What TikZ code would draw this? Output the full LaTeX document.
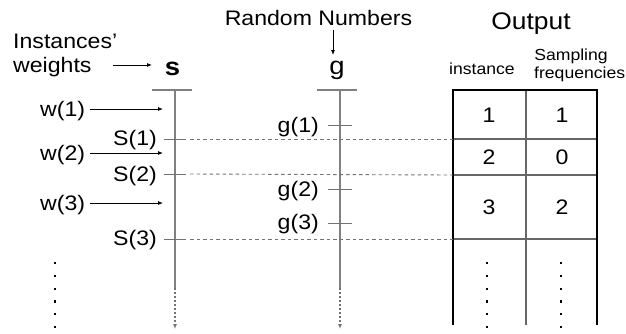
\documentclass[tikz,border=0pt]{standalone}
\usepackage{fontspec}
\setmainfont{Liberation Sans}[FakeStretch=1.1]
\usetikzlibrary{arrows.meta}
\begin{document}
\begin{tikzpicture}[x=1pt,y=-1pt,
  lbl/.style={inner sep=0pt, font=\fontsize{21}{24}\selectfont},
  big/.style={inner sep=0pt, font=\fontsize{25}{28}\selectfont},
  ttl/.style={inner sep=0pt, font=\fontsize{24}{27}\selectfont},
  small/.style={inner sep=0pt, font=\fontsize{16}{18}\selectfont},
  axis/.style={draw=black!50, line width=1.2pt},
  tick/.style={draw=black!55, line width=1pt},
  arr/.style={draw=black, line width=0.8pt, -{Latex[length=5pt,width=4pt]}},
  dotarr/.style={draw=black!55, line width=1.2pt, dash pattern=on 2pt off 2pt, -{Latex[length=5pt,width=4pt]}},
  guide/.style={draw=black!55, line width=0.9pt, dash pattern=on 3.5pt off 3pt},
  outer/.style={draw=black, line width=2pt},
  inner/.style={draw=black!60, line width=1.2pt},
  vdot/.style={fill=black}
]
\useasboundingbox (0,0) rectangle (626,333);

% titles
\node[lbl, anchor=base west] (inst) at (13,48) {Instances’};
\node[lbl, anchor=base west] (wts) at (13,72) {weights};
\node[big, anchor=base, font=\fontsize{25}{28}\selectfont\bfseries] (s) at (172.5,75) {s};
\node[lbl, anchor=base] (rn) at (318.5,25) {Random Numbers};
\node[big, anchor=base] (g) at (337,74) {g};
\node[ttl, anchor=base] (out) at (531,29) {Output};
\node[small, anchor=base] (instc) at (482,74) {instance};
\node[small, anchor=base] (samp) at (571,60) {Sampling};
\node[small, anchor=base west] (freq) at (534,78) {frequencies};

\coordinate (wa) at (113,65); \coordinate (wb) at (152,65);
\draw[arr] (wa) -- (wb);
\coordinate (ra) at (333,30); \coordinate (rb) at (333,55);
\draw[arr] (ra) -- (rb);

% s axis
\coordinate (sL) at (152,90); \coordinate (sR) at (192,90);
\coordinate (sT) at (175,90); \coordinate (sM) at (175,288); \coordinate (sB) at (175,329);
\draw[axis] (sL) -- (sR);
\draw[axis] (sT) -- (sM);
\draw[dotarr] (sM) -- (sB);

% g axis
\coordinate (gL) at (317,90); \coordinate (gR) at (357,90);
\coordinate (gT) at (340,90); \coordinate (gM) at (340,288); \coordinate (gB) at (340,329);
\draw[axis] (gL) -- (gR);
\draw[axis] (gT) -- (gM);
\draw[dotarr] (gM) -- (gB);

% weights
\node[lbl, anchor=base west] (w1) at (40,116.5) {w(1)};
\node[lbl, anchor=base west] (w2) at (40,160.5) {w(2)};
\node[lbl, anchor=base west] (w3) at (40,210.5) {w(3)};
\coordinate (w1a) at (90,109); \coordinate (w1b) at (163,109);
\coordinate (w2a) at (90,153); \coordinate (w2b) at (163,153);
\coordinate (w3a) at (90,203); \coordinate (w3b) at (163,203);
\draw[arr] (w1a) -- (w1b);
\draw[arr] (w2a) -- (w2b);
\draw[arr] (w3a) -- (w3b);

% S labels and ticks
\node[lbl, anchor=base east] (S1) at (157,145.5) {S(1)};
\node[lbl, anchor=base east] (S2) at (157,181.5) {S(2)};
\node[lbl, anchor=base east] (S3) at (157,245.5) {S(3)};
\coordinate (S1a) at (164,139); \coordinate (S1b) at (186,139);
\coordinate (S2a) at (164,174); \coordinate (S2b) at (186,174);
\coordinate (S3a) at (164,239); \coordinate (S3b) at (186,239);
\draw[tick] (S1a) -- (S1b);
\draw[tick] (S2a) -- (S2b);
\draw[tick] (S3a) -- (S3b);

% g labels and ticks
\node[lbl, anchor=base east] (g1) at (319,132.5) {g(1)};
\node[lbl, anchor=base east] (g2) at (319,196.5) {g(2)};
\node[lbl, anchor=base east] (g3) at (319,229.5) {g(3)};
\coordinate (g1a) at (328,125); \coordinate (g1b) at (352,125);
\coordinate (g2a) at (328,189); \coordinate (g2b) at (352,189);
\coordinate (g3a) at (328,223); \coordinate (g3b) at (352,223);
\draw[tick] (g1a) -- (g1b);
\draw[tick] (g2a) -- (g2b);
\draw[tick] (g3a) -- (g3b);

% table
\coordinate (tTL) at (453,90); \coordinate (tTR) at (597,90);
\coordinate (tBL) at (453,325); \coordinate (tBR) at (597,325);
\coordinate (tMT) at (526,90); \coordinate (tMB) at (526,325);
\coordinate (r1L) at (453,139); \coordinate (r1R) at (597,139);
\coordinate (r2L) at (453,175); \coordinate (r2R) at (597,175);
\coordinate (r3L) at (453,239); \coordinate (r3R) at (597,239);
\draw[inner] (tMT) -- (tMB);
\draw[inner] (r1L) -- (r1R);
\draw[inner] (r2L) -- (r2R);
\draw[inner] (r3L) -- (r3R);
\draw[outer] (tBL) -- (tTL) -- (tTR) -- (tBR);

% dashed guides
\coordinate (d1) at (190,139); \coordinate (d2) at (190,174); \coordinate (d3) at (190,239);
\draw[guide] (d1) -- (r1L);
\draw[guide] (d2) -- (r2L);
\draw[guide] (d3) -- (r3L);

% table entries
\node[lbl, anchor=base] (i1) at (489,122.5) {1};
\node[lbl, anchor=base] (f1) at (562,122.5) {1};
\node[lbl, anchor=base] (i2) at (489,164.5) {2};
\node[lbl, anchor=base] (f2) at (562,164.5) {0};
\node[lbl, anchor=base] (i3) at (489,214.5) {3};
\node[lbl, anchor=base] (f3) at (562,214.5) {2};

% vertical dots
\foreach \xx in {55,487,561}{
  \foreach \yy in {263,275.8,288.6,301.4,314.2,327}{
    \fill[vdot] (\xx-1.1,\yy-1.1) rectangle (\xx+1.1,\yy+1.1);
  }
}
\end{tikzpicture}
\end{document}
